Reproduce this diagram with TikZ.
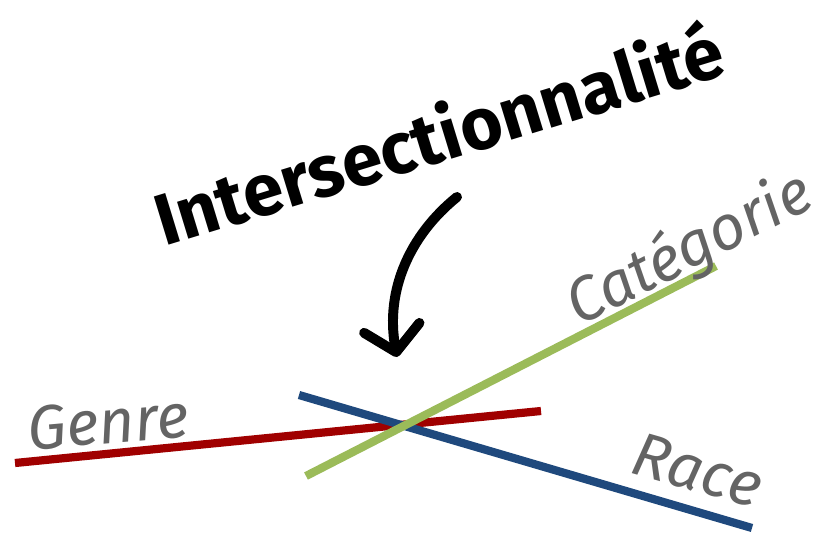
\documentclass[tikz,border=0pt]{standalone}
\usepackage{fontspec}
\setmainfont{Fira Sans}
\usetikzlibrary{arrows.meta}
\definecolor{genrered}{RGB}{160,0,0}
\definecolor{raceblue}{RGB}{31,73,125}
\definecolor{catgreen}{RGB}{155,187,89}
\definecolor{labelgray}{RGB}{100,100,100}

\begin{document}
\begin{tikzpicture}[x=0.03cm,y=-0.03cm,
    axe/.style={line width=7pt},
    etiquette/.style={font=\fontsize{53}{53}\selectfont\itshape,text=labelgray,inner sep=0pt},
    titre/.style={font=\fontsize{62}{62}\selectfont\bfseries,inner sep=0pt}]
  \useasboundingbox (0,0) rectangle (831,534);
  % axes
  \coordinate (genreA) at (15,463);
  \coordinate (genreB) at (541,411);
  \coordinate (raceA) at (299,395);
  \coordinate (raceB) at (752,528);
  \coordinate (catA) at (306,476);
  \coordinate (catB) at (716,266);
  \draw[axe,genrered] (genreA) -- (genreB);
  \draw[axe,raceblue] (raceA) -- (raceB);
  \draw[axe,catgreen] (catA) -- (catB);
  % labels
  \node[etiquette,rotate=5] (genre) at (108,422) {Genre};
  \node[etiquette,rotate=27] (categorie) at (690,250) {Catégorie};
  \node[etiquette,rotate=-16] (race) at (698,470) {Race};
  \node[titre,rotate=17] (titre) at (438,132) {Intersectionnalité};
  % arrow
  \coordinate (depart) at (457,197);
  \coordinate (pointe) at (397,357);
  \draw[line width=8.5pt,line cap=round,
    -{Straight Barb[length=21pt,width=48pt,round]}]
    (depart) .. controls (410,235) and (385,290) .. (pointe);
\end{tikzpicture}
\end{document}
